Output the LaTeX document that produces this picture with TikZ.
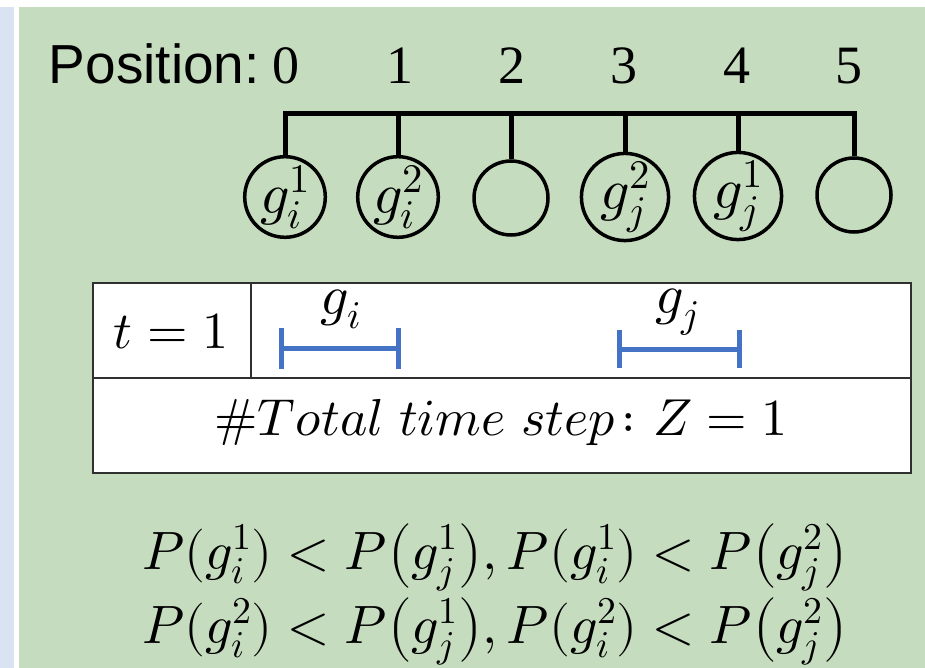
\documentclass[tikz,border=0pt]{standalone}
\usepackage{fontspec}
\usepackage{unicode-math}
\setmathfont{Latin Modern Math}
\newfontfamily\arialf{Liberation Sans}
\newfontfamily\timesf{Liberation Serif}
\definecolor{bgreen}{HTML}{C6DCBE}
\definecolor{lblue}{HTML}{DAE3F1}
\definecolor{ibarc}{HTML}{4472C4}
\definecolor{tgray}{HTML}{303030}
\tikzset{
  poslab/.style={anchor=base, inner sep=0, font=\timesf\fontsize{54}{58}\selectfont},
  slot/.style={circle, draw=black, line width=3.5pt, minimum size=74pt, inner sep=0pt, font=\fontsize{58}{62}\selectfont},
  comb/.style={draw=black, line width=5pt, line join=miter},
  tline/.style={draw=tgray, line width=2.5pt},
  ivl/.style={draw=ibarc, line width=5pt},
  ivllab/.style={inner sep=0, font=\fontsize{56}{60}\selectfont},
  celltxt/.style={anchor=base, inner sep=0, font=\fontsize{52}{56}\selectfont},
  eqtxt/.style={anchor=base, inner sep=0, font=\fontsize{54}{58}\selectfont}
}
\begin{document}
\begin{tikzpicture}[x=1pt,y=-1pt]
\useasboundingbox (0,0) rectangle (925,668);
\fill[white] (0,0) rectangle (925,668);
\fill[lblue] (0,7) rectangle (14,668);
\fill[bgreen] (19,7) rectangle (925,668);

% position labels
\node[anchor=base east, inner sep=0, font=\arialf\fontsize{55}{58}\selectfont] (plab) at (260,84) {Position:};
\node[poslab] (p0) at (286,84) {0};
\node[poslab] (p1) at (400,84) {1};
\node[poslab] (p2) at (512,84) {2};
\node[poslab] (p3) at (624,84) {3};
\node[poslab] (p4) at (737,84) {4};
\node[poslab] (p5) at (849,84) {5};

% slots
\node[slot] (c0) at (285,197) {$g_i^1$};
\node[slot] (c1) at (398,197) {$g_i^2$};
\node[slot] (c2) at (511,198) {};
\node[slot] (c3) at (625,197) {$g_j^2$};
\node[slot] (c4) at (738,196) {$g_j^1$};
\node[slot] (c5) at (854,195) {};
\coordinate (bar) at (0,114);
\draw[comb] (c0.north) |- (c5.north |- bar) -- (c5.north);
\foreach \k in {1,2,3,4} \draw[comb] (c\k.north |- bar) -- (c\k.north);

% table
\node[tline, rectangle, minimum width=818pt, minimum height=190pt, inner sep=0, fill=white] (tab) at (502,378) {};
\draw[tline] (tab.west) -- (tab.east);
\coordinate (div) at (251,283);
\draw[tline] (div) -- (div |- tab.center);
\node[celltxt] (t1) at (171,348) {$t=1$};

% intervals
\coordinate (giL) at (281,348);
\coordinate (giR) at (398,348);
\coordinate (gjL) at (619,349);
\coordinate (gjR) at (739,349);
\draw[ivl] (giL) -- (giR);
\draw[ivl] ([yshift=-21pt]giL) -- ([yshift=20pt]giL);
\draw[ivl] ([yshift=-21pt]giR) -- ([yshift=20pt]giR);
\draw[ivl] (gjL) -- (gjR);
\draw[ivl] ([yshift=-19pt]gjL) -- ([yshift=19pt]gjL);
\draw[ivl] ([yshift=-19pt]gjR) -- ([yshift=19pt]gjR);
\node[ivllab] (gi) at (341,309) {$g_i$};
\node[ivllab] (gj) at (677,312) {$g_j$};

\node[celltxt] (tot) at (501,435) {$\#Total\ time\ step\colon Z=1$};

% equations
\node[eqtxt] (eq1) at (495,569) {$P(g_i^1) < P\bigl(g_j^1\bigr), P(g_i^1) < P\bigl(g_j^2\bigr)$};
\node[eqtxt] (eq2) at (495,643) {$P(g_i^2) < P\bigl(g_j^1\bigr), P(g_i^2) < P\bigl(g_j^2\bigr)$};
\end{tikzpicture}
\end{document}
